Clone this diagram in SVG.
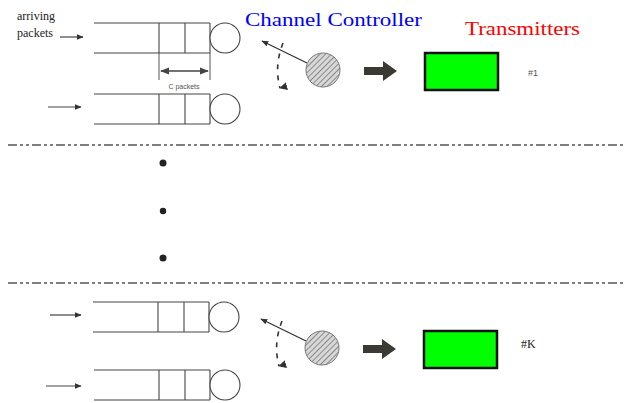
<svg xmlns="http://www.w3.org/2000/svg" width="628" height="403" viewBox="0 0 628 403">
  <defs>
    <pattern id="hatch" patternUnits="userSpaceOnUse" width="4" height="4" patternTransform="rotate(45)">
      <rect width="4" height="4" fill="#d8d8d8"/>
      <line x1="0" y1="0" x2="0" y2="4" stroke="#555" stroke-width="1.2"/>
    </pattern>
    <marker id="thin" viewBox="0 0 10 10" refX="9" refY="5" markerWidth="7" markerHeight="7" orient="auto" markerUnits="userSpaceOnUse">
      <path d="M0,1 L10,5 L0,9 Z" fill="#333"/>
    </marker>
    <marker id="dim" viewBox="0 0 10 10" refX="9" refY="5" markerWidth="9" markerHeight="9" orient="auto-start-reverse" markerUnits="userSpaceOnUse">
      <path d="M0,1 L10,5 L0,9 Z" fill="#444"/>
    </marker>
    <marker id="swing" viewBox="0 0 10 10" refX="5" refY="9" markerWidth="8" markerHeight="8" orient="auto" markerUnits="userSpaceOnUse">
      <path d="M0,0 L10,5 L0,10 Z" fill="#333" transform="rotate(90 5 5)"/>
    </marker>
    <g id="queue">
      <line x1="0" y1="0" x2="116" y2="0"/>
      <line x1="0" y1="30" x2="116" y2="30"/>
      <line x1="65" y1="0" x2="65" y2="30" class="cell"/>
      <line x1="91" y1="0" x2="91" y2="30" class="cell"/>
      <line x1="116" y1="0" x2="116" y2="30" class="cell"/>
      <circle cx="131" cy="15" r="15" fill="#fff"/>
    </g>
    <g id="controller">
      <!-- selector arm -->
      <line x1="307" y1="63" x2="262" y2="41" stroke="#333" stroke-width="1.3" marker-end="url(#thin)"/>
      <!-- swing path -->
      <path d="M283,43 Q274,66 280,88" fill="none" stroke="#333" stroke-width="1.6" stroke-dasharray="5,6" marker-end="url(#swing)"/>
      <circle cx="323" cy="70" r="17" fill="url(#hatch)" stroke="#777" stroke-width="1"/>
      <!-- thick output arrow -->
      <path d="M364,67 L383,67 L383,61 L397,71 L383,81 L383,75 L364,75 Z" fill="#3a3a33"/>
      <rect x="425" y="53" width="73" height="37" fill="#00ff00" stroke="#111" stroke-width="2.5"/>
    </g>
  </defs>
  <style>
    .q { stroke: #444; stroke-width: 1.1; fill: none; }
    .q .cell { stroke-width: 1.6; stroke: #222; }
    .q circle { stroke: #333; stroke-width: 1.3; }
    .in { stroke: #444; stroke-width: 1.2; marker-end: url(#thin); }
    .sep { stroke: #555; stroke-width: 1.6; stroke-dasharray: 9,3,3,3,3,3; }
    .serif { font-family: "Liberation Serif", "Times New Roman", serif; }
    .sans { font-family: "Liberation Sans", Arial, sans-serif; }
  </style>

  <!-- titles -->
  <text class="serif" x="245" y="26" font-size="19" fill="#0000ff" textLength="177" lengthAdjust="spacingAndGlyphs">Channel Controller</text>
  <text class="serif" x="465" y="35" font-size="19" fill="#ff0000" textLength="115" lengthAdjust="spacingAndGlyphs">Transmitters</text>

  <!-- input labels -->
  <text class="serif" x="17" y="20" font-size="12" fill="#222">arriving</text>
  <text class="serif" x="17" y="37" font-size="12" fill="#222">packets</text>

  <!-- queues -->
  <g id="queue1" class="q"><use href="#queue" x="94" y="23"/></g>
  <g id="queue2" class="q"><use href="#queue" x="94" y="94"/></g>
  <g id="queue3" class="q"><use href="#queue" x="93" y="302"/></g>
  <g id="queue4" class="q"><use href="#queue" x="94" y="370"/></g>

  <!-- buffer size dimension -->
  <g id="dimension">
    <line x1="159" y1="53" x2="159" y2="80" stroke="#555" stroke-width="1"/>
    <line x1="210" y1="53" x2="210" y2="80" stroke="#555" stroke-width="1"/>
    <line x1="161" y1="71" x2="208" y2="71" stroke="#444" stroke-width="1.6" marker-start="url(#dim)" marker-end="url(#dim)"/>
    <text class="sans" x="184" y="89" font-size="7" fill="#555" text-anchor="middle">C packets</text>
  </g>

  <!-- controllers and transmitters -->
  <g id="controller1"><use href="#controller"/></g>
  <g id="controller2"><use href="#controller" x="-1" y="278"/></g>
  <text class="sans" x="528" y="76" font-size="9" fill="#555">#1</text>
  <text class="serif" x="521" y="348" font-size="12" fill="#222">#K</text>

  <!-- connectors -->
  <g id="connectors">
    <line class="in" x1="60" y1="37" x2="83" y2="37"/>
    <line class="in" x1="48" y1="107" x2="81" y2="107"/>
    <line class="in" x1="50" y1="315" x2="81" y2="315"/>
    <line class="in" x1="46" y1="386" x2="81" y2="386"/>
    <line class="sep" x1="8" y1="145" x2="624" y2="145"/>
    <line class="sep" x1="8" y1="283" x2="624" y2="283"/>
  </g>

  <!-- ellipsis dots -->
  <g id="dots" fill="#222">
    <circle cx="163" cy="163" r="3.5"/>
    <circle cx="163" cy="211" r="3.2"/>
    <circle cx="163" cy="258" r="3.5"/>
  </g>
</svg>
